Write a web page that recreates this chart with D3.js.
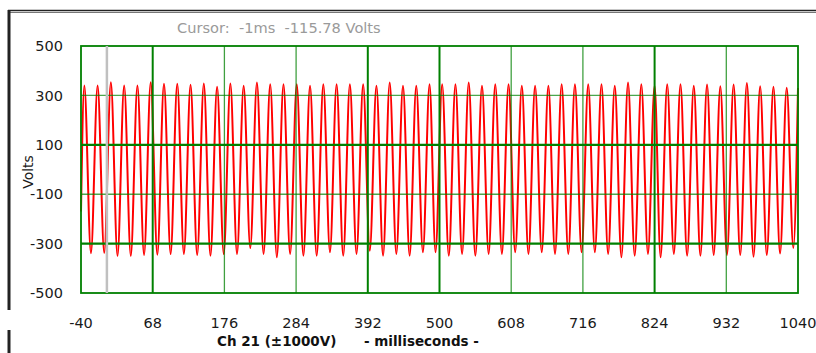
<!DOCTYPE html>
<html>
<head>
<meta charset="utf-8">
<script src="https://cdn.jsdelivr.net/npm/d3@7"></script>
<style>
  body { margin: 0; background: #fff; }
  svg { display: block; }
  text { font-family: "DejaVu Sans", Tahoma, sans-serif; }
</style>
</head>
<body>
<script>
// peaks / troughs of the trace (ms, volts)
const times = [
  -40, -35, -25, -15, -5, 5, 15, 25, 35, 45,
  55, 65, 75, 85, 95, 105, 115, 125, 135, 145,
  155, 165, 175, 185, 195, 205, 215, 225, 235, 245,
  255, 265, 275, 285, 295, 305, 315, 325, 335, 345,
  355, 365, 375, 385, 395, 405, 415, 425, 435, 445,
  455, 465, 475, 485, 494, 504, 514, 524, 534, 544,
  554, 564, 574, 584, 594, 604, 614, 624, 634, 644,
  654, 664, 674, 684, 694, 704, 714, 724, 734, 744,
  754, 764, 774, 784, 794, 804, 814, 824, 833, 843,
  853, 863, 873, 883, 893, 903, 913, 923, 933, 943,
  953, 963, 973, 983, 993, 1003, 1013, 1023, 1033, 1040
];
const volts = [
  -170, 340, -339, 340, -337, 353, -350, 340, -350, 340,
  -346, 353, -345, 347, -342, 347, -342, 343, -346, 348,
  -349, 335, -342, 348, -342, 339, -318, 352, -342, 345,
  -355, 345, -342, 345, -349, 339, -349, 345, -335, 345,
  -349, 345, -342, 345, -329, 339, -349, 352, -342, 339,
  -349, 339, -335, 345, -335, 345, -349, 345, -342, 352,
  -349, 339, -342, 345, -342, 345, -335, 339, -342, 339,
  -335, 339, -342, 345, -342, 345, -335, 345, -335, 345,
  -342, 339, -355, 352, -349, 345, -342, 339, -355, 345,
  -342, 345, -349, 339, -349, 344, -346, 337, -346, 344,
  -346, 350, -353, 337, -346, 335, -340, 331, -318, 330
];

const xTicks = [-40, 68, 176, 284, 392, 500, 608, 716, 824, 932, 1040];
const yTicks = [500, 300, 100, -100, -300, -500];
const thickX = [68, 392, 500, 824];
const thickY = [100, -300];

const cursorMs = -1;
const cursorVolts = -115.78;

const svgWidth = 816,
  svgHeight = 353;
const svg = d3.select('body').append('svg')
  .attr('width', svgWidth)
  .attr('height', svgHeight);

const xScale = d3.scaleLinear().domain([-40, 1040]).range([81, 798]);
const yScale = d3.scaleLinear().domain([-500, 500]).range([293, 46]);

// outer panel frame
svg.append('line').attr('x1', 8).attr('x2', 816).attr('y1', 10.5).attr('y2', 10.5)
  .attr('stroke', '#222').attr('stroke-width', 1.5);
svg.append('line').attr('x1', 8).attr('x2', 816).attr('y1', 12.5).attr('y2', 12.5)
  .attr('stroke', '#777').attr('stroke-width', 1);
svg.append('line').attr('x1', 9).attr('x2', 9).attr('y1', 10).attr('y2', 310)
  .attr('stroke', '#222').attr('stroke-width', 3);
svg.append('line').attr('x1', 9).attr('x2', 9).attr('y1', 330).attr('y2', 353)
  .attr('stroke', '#222').attr('stroke-width', 3);

// trace
const trace = times.map((t, i) => [t, volts[i]]);
const line = d3.line()
  .x(d => xScale(d[0]))
  .y(d => yScale(d[1]))
  .curve(d3.curveMonotoneX);

svg.append('path')
  .datum(trace)
  .attr('d', line)
  .attr('fill', 'none')
  .attr('stroke', '#ff0000')
  .attr('stroke-width', 2)
  .attr('stroke-linejoin', 'round');

// grid (sits over the trace, as on the scope)
const grid = svg.append('g');
grid.selectAll('.vx')
  .data(xTicks.slice(1, -1))
  .enter()
  .append('line')
  .attr('x1', d => xScale(d))
  .attr('x2', d => xScale(d))
  .attr('y1', yScale(500))
  .attr('y2', yScale(-500))
  .attr('stroke', '#008000')
  .attr('stroke-opacity', d => thickX.includes(d) ? 1 : 0.75)
  .attr('stroke-width', d => thickX.includes(d) ? 2 : 1.3);

grid.selectAll('.hy')
  .data(yTicks.slice(1, -1))
  .enter()
  .append('line')
  .attr('x1', xScale(-40))
  .attr('x2', xScale(1040))
  .attr('y1', d => yScale(d))
  .attr('y2', d => yScale(d))
  .attr('stroke', '#008000')
  .attr('stroke-opacity', d => thickY.includes(d) ? 1 : 0.7)
  .attr('stroke-width', d => thickY.includes(d) ? 2.2 : 1.4);

grid.append('rect')
  .attr('x', xScale(-40))
  .attr('y', yScale(500))
  .attr('width', xScale(1040) - xScale(-40))
  .attr('height', yScale(-500) - yScale(500))
  .attr('fill', 'none')
  .attr('stroke', '#008000')
  .attr('stroke-width', 1.8);

// cursor
svg.append('line')
  .attr('x1', xScale(cursorMs))
  .attr('x2', xScale(cursorMs))
  .attr('y1', yScale(500))
  .attr('y2', yScale(-500))
  .attr('stroke', '#c0c0c0')
  .attr('stroke-width', 2.5);

svg.append('text')
  .attr('x', 177)
  .attr('y', 33)
  .attr('fill', '#9a9a9a')
  .attr('font-size', 14.6)
  .style('white-space', 'pre')
  .text('Cursor:  ' + cursorMs + 'ms  ' + cursorVolts + ' Volts');

// tick labels
svg.selectAll('.ylab')
  .data(yTicks)
  .enter()
  .append('text')
  .attr('x', 63)
  .attr('y', d => yScale(d))
  .attr('dy', '0.36em')
  .attr('text-anchor', 'end')
  .attr('font-size', 14.5)
  .attr('fill', '#1a1a1a')
  .text(d => d);

svg.selectAll('.xlab')
  .data(xTicks)
  .enter()
  .append('text')
  .attr('x', d => xScale(d))
  .attr('y', 328)
  .attr('text-anchor', 'middle')
  .attr('font-size', 14.5)
  .attr('fill', '#1a1a1a')
  .text(d => d);

svg.append('text')
  .attr('transform', 'translate(33,172) rotate(-90)')
  .attr('text-anchor', 'middle')
  .attr('font-size', 14)
  .attr('fill', '#1a1a1a')
  .text('Volts');

svg.append('text')
  .attr('x', 217)
  .attr('y', 346)
  .attr('font-size', 13.5)
  .attr('font-weight', 'bold')
  .attr('fill', '#111')
  .text('Ch 21 (\u00b11000V)');

svg.append('text')
  .attr('x', 364)
  .attr('y', 346)
  .attr('font-size', 13.5)
  .attr('font-weight', 'bold')
  .attr('fill', '#111')
  .text('- milliseconds -');
</script>
</body>
</html>
